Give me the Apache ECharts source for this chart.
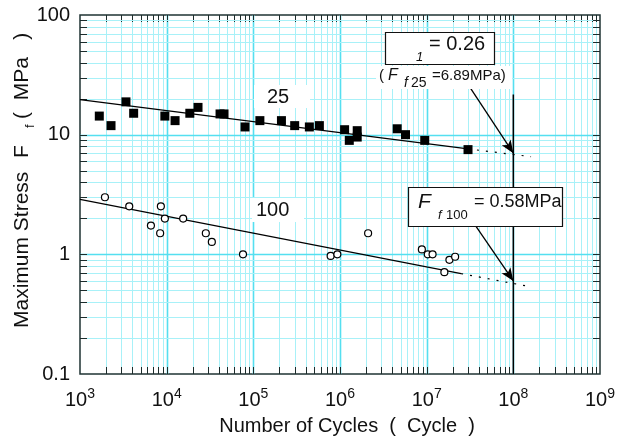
<!DOCTYPE html>
<html>
<head>
<meta charset="utf-8">
<script src="https://cdn.jsdelivr.net/npm/echarts@6/dist/echarts.min.js"></script>
<style>
  html, body { margin: 0; padding: 0; background: #fff; }
  #chart { width: 627px; height: 441px; }
</style>
</head>
<body>
<div id="chart"></div>
<script>
var FONT = '"Liberation Sans", Arial, sans-serif';

// 25 series - filled squares
var cycles25 = [1670, 2280, 3390, 4160, 9530, 12500, 18500, 23000, 41300, 45900, 80200, 119000,
                211000, 300000, 443000, 578000, 1.13e6, 1.28e6, 1.58e6, 1.58e6, 4.57e6, 5.7e6, 9.5e6, 3.0e7];
var stress25 = [14.3, 11.9, 18.8, 15.1, 14.3, 13.1, 15.1, 16.9, 14.9, 14.9, 11.6, 13.1,
                13.1, 11.9, 11.6, 11.9, 11.0, 8.96, 10.8, 9.55, 11.2, 10.0, 8.96, 7.5];

// 100 series - open circles
var cycles100 = [1940, 3700, 8570, 9530, 6580, 8410, 15500, 28300, 33200, 76000, 780000, 932000,
                 2.11e6, 8.8e6, 1.03e7, 1.17e7, 1.83e7, 2.13e7, 1.6e7];
var stress100 = [3.0, 2.52, 2.52, 1.99, 1.74, 1.50, 1.99, 1.50, 1.27, 1.0, 0.97, 1.0,
                 1.50, 1.10, 1.0, 1.0, 0.90, 0.955, 0.71];

// fitted lines (solid part, dotted extension)
var fit25N = [1000, 3.0e7], fit25S = [19.6, 7.6];
var ext25N = [3.0e7, 1.6e8], ext25S = [7.6, 6.55];
var fit100N = [1000, 2.5e7], fit100S = [2.88, 0.69];
var ext100N = [2.5e7, 1.5e8], ext100S = [0.69, 0.54];

// 10^8 reference line and arrows
var limitN = [1e8, 1e8], limitS = [21.7, 0.1];
var arrow25 = [[3.16e7, 24.8], [1e8, 7.0]];
var arrow100 = [[3.61e7, 1.76], [1e8, 0.6]];

// axes
var xDecades = [3, 4, 5, 6, 7, 8];
var yDecades = [-1, 0, 1];
var mantissas = [1, 2, 3, 4, 5, 6, 7, 8, 9];

function pairs(a, b) { return a.map(function (v, i) { return [v, b[i]]; }); }

var gridData = [];
xDecades.forEach(function (d) {
  mantissas.forEach(function (m) {
    var v = m * Math.pow(10, d);
    if (d === 3 && m === 1) return;
    gridData.push([v, 1, 0, m === 1 ? 1 : 0]);
  });
});
yDecades.forEach(function (d) {
  mantissas.forEach(function (m) {
    var v = +(m * Math.pow(10, d)).toPrecision(3);
    if (d === -1 && m === 1) return;
    gridData.push([1000, v, 1, m === 1 ? 1 : 0]);
  });
});

function renderGrid(params, api) {
  var cs = params.coordSys;
  var dir = api.value(2), major = api.value(3);
  var p = api.coord([api.value(0), api.value(1)]);
  var col = major ? '#55dff0' : '#a8f1f8';
  var tc = '#1c2c2c', tl = 7;
  var ch = [];
  if (dir === 0) {
    var x = Math.round(p[0]) + 0.5;
    ch.push({ type: 'line', shape: { x1: x, y1: cs.y, x2: x, y2: cs.y + cs.height }, style: { stroke: col, lineWidth: major ? 1.6 : 1 } });
    ch.push({ type: 'line', shape: { x1: x, y1: cs.y + cs.height, x2: x, y2: cs.y + cs.height - tl }, style: { stroke: tc, lineWidth: 1 } });
    ch.push({ type: 'line', shape: { x1: x, y1: cs.y, x2: x, y2: cs.y + tl }, style: { stroke: tc, lineWidth: 1 } });
  } else {
    var y = Math.round(p[1]) + 0.5;
    ch.push({ type: 'line', shape: { x1: cs.x, y1: y, x2: cs.x + cs.width, y2: y }, style: { stroke: col, lineWidth: major ? 1.6 : 1 } });
    ch.push({ type: 'line', shape: { x1: cs.x, y1: y, x2: cs.x + tl, y2: y }, style: { stroke: tc, lineWidth: 1 } });
    ch.push({ type: 'line', shape: { x1: cs.x + cs.width, y1: y, x2: cs.x + cs.width - tl, y2: y }, style: { stroke: tc, lineWidth: 1 } });
  }
  return { type: 'group', children: ch };
}

function txt(x, y, s, size, italic) {
  return { type: 'text', x: x, y: y, z: 100,
    style: { text: s, fontSize: size, fontFamily: FONT, fontStyle: italic ? 'italic' : 'normal',
             fill: '#111', verticalAlign: 'middle' } };
}

// rotated text, reading bottom to top, starting at (x, y)
function vtxt(x, y, s, size) {
  var t = txt(x, y, s, size);
  t.rotation = Math.PI / 2;
  t.style.align = 'left';
  return t;
}

var chart = echarts.init(document.getElementById('chart'));
chart.setOption({
  animation: false,
  grid: { left: 80, right: 27, top: 15, bottom: 64, show: true, borderColor: '#1f3333', borderWidth: 1.5 },
  xAxis: {
    type: 'log', logBase: 10, min: 1e3, max: 1e9, interval: 1,
    name: 'Number of Cycles  (  Cycle  )', nameLocation: 'middle', nameGap: 42,
    nameTextStyle: { fontSize: 20, fontFamily: FONT, color: '#111', padding: [0, 0, 0, 14] },
    axisLine: { show: false }, axisTick: { show: false }, splitLine: { show: false },
    axisLabel: {
      margin: 13, showMinLabel: true, showMaxLabel: true,
      formatter: function (v) { return '{b|10}{s|' + Math.round(Math.log10(v)) + '}'; },
      rich: {
        b: { fontSize: 20, fontFamily: FONT, color: '#111', lineHeight: 26 },
        s: { fontSize: 14, fontFamily: FONT, color: '#111', verticalAlign: 'top', lineHeight: 12 }
      }
    }
  },
  yAxis: {
    type: 'log', logBase: 10, min: 0.1, max: 100, interval: 1,
    axisLine: { show: false }, axisTick: { show: false }, splitLine: { show: false },
    axisLabel: { margin: 10, fontSize: 20, fontFamily: FONT, color: '#111', showMinLabel: true, showMaxLabel: true }
  },
  series: [
    { type: 'custom', name: 'grid', silent: true, z: 1, clip: false, renderItem: renderGrid,
      encode: { x: 0, y: 1 }, data: gridData },
    { type: 'line', z: 3, data: pairs(fit25N, fit25S), showSymbol: false, silent: true,
      lineStyle: { color: '#000', width: 1.2 } },
    { type: 'line', z: 3, data: pairs(ext25N, ext25S), showSymbol: false, silent: true,
      lineStyle: { color: '#000', width: 1.2, type: [2, 7] } },
    { type: 'line', z: 3, data: pairs(fit100N, fit100S), showSymbol: false, silent: true,
      lineStyle: { color: '#000', width: 1.2 } },
    { type: 'line', z: 3, data: pairs(ext100N, ext100S), showSymbol: false, silent: true,
      lineStyle: { color: '#000', width: 1.2, type: [2, 7] } },
    { type: 'line', z: 3, data: pairs(limitN, limitS), showSymbol: false, silent: true,
      lineStyle: { color: '#000', width: 1.5 },
      markLine: {
        silent: true, symbol: ['none', 'arrow'], symbolSize: [8, 13], label: { show: false },
        lineStyle: { color: '#000', width: 1.3, type: 'solid' },
        data: [
          [{ coord: arrow25[0] }, { coord: arrow25[1] }],
          [{ coord: arrow100[0] }, { coord: arrow100[1] }]
        ]
      } },
    { type: 'scatter', z: 4, data: pairs(cycles25, stress25), symbol: 'rect', symbolSize: 9, silent: true,
      itemStyle: { color: '#000', opacity: 1 } },
    { type: 'scatter', z: 4, data: pairs(cycles100, stress100), symbol: 'circle', symbolSize: 7, silent: true,
      itemStyle: { color: '#fff', borderColor: '#000', borderWidth: 1.2, opacity: 1 } }
  ],
  graphic: [
    // y axis title
    vtxt(22, 328, 'Maximum Stress', 21),
    vtxt(22, 158, 'F', 21),
    vtxt(30, 128, 'f', 13),
    vtxt(22, 119, '(  MPa   )', 21),
    // series labels
    { type: 'rect', z: 90, shape: { x: 254, y: 85, width: 56, height: 23 }, style: { fill: '#fff' } },
    txt(267, 97, '25', 20),
    { type: 'rect', z: 90, shape: { x: 252, y: 198, width: 52, height: 24 }, style: { fill: '#fff' } },
    txt(256, 210, '100', 20),
    // box 1
    { type: 'rect', z: 90, shape: { x: 385.5, y: 32.5, width: 109, height: 32 }, style: { fill: '#fff', stroke: '#111', lineWidth: 1.2 } },
    txt(416, 57, '1', 13, true),
    txt(429, 44, '= 0.26', 20),
    { type: 'rect', z: 90, shape: { x: 376, y: 66, width: 136, height: 23 }, style: { fill: '#fff' } },
    txt(379, 76, '(', 15),
    txt(388, 76, 'F', 16, true),
    txt(404, 83, 'f', 14, true),
    txt(411, 83, '25', 14),
    txt(432, 76, '=6.89MPa)', 15),
    // box 2
    { type: 'rect', z: 90, shape: { x: 408.5, y: 187.5, width: 154, height: 39 }, style: { fill: '#fff', stroke: '#111', lineWidth: 1.2 } },
    txt(418, 202, 'F', 21, true),
    txt(438, 215, 'f', 13, true),
    txt(446, 215, '100', 13),
    txt(474, 202, '= 0.58MPa', 18)
  ]
});
</script>
</body>
</html>
